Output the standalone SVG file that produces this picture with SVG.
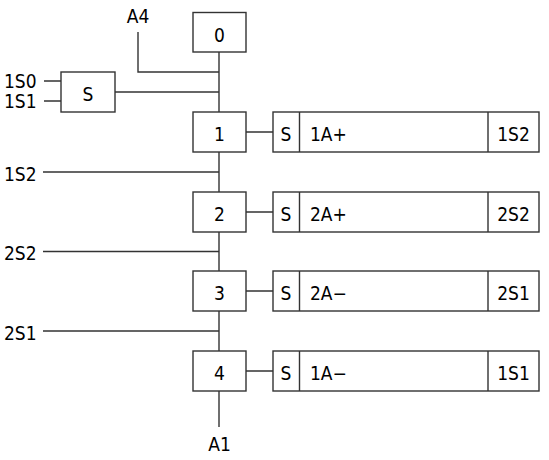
<svg xmlns="http://www.w3.org/2000/svg" width="549" height="460" viewBox="0 0 549 460">
<style>
  .ln{stroke:#333;stroke-width:1.4;fill:none}
  .bx{stroke:#333;stroke-width:1.4;fill:#fff}
  text{font-family:"DejaVu Sans Condensed","DejaVu Sans",sans-serif;font-size:19px;fill:#000}
  .m{text-anchor:middle}
</style>
<rect width="549" height="460" fill="#fff"/>
<g id="connectors">
  <path class="ln" d="M219 52V112M219 152V192M219 232V271M219 311V351M219 391V427"/>
  <path class="ln" d="M138 32V72H219"/>
  <path class="ln" d="M115 92H219"/>
  <path class="ln" d="M44 81H61M44 101H61"/>
  <path class="ln" d="M43 172H219M43 251.5H219M43 331H219"/>
  <path class="ln" d="M246 132H273M246 212H273M246 291H273M246 371H273"/>
</g>
<g id="labels">
  <text x="138" y="22.5" class="m">A4</text>
  <text x="219.5" y="451" class="m">A1</text>
  <text x="4" y="88">1S0</text>
  <text x="4" y="108">1S1</text>
  <text x="4" y="180.5">1S2</text>
  <text x="4" y="260">2S2</text>
  <text x="4" y="339.5">2S1</text>
</g>
<g id="step0">
  <rect class="bx" x="193" y="12.5" width="53" height="39.5"/>
  <text x="219.5" y="41.5" class="m">0</text>
</g>
<g id="setblock">
  <rect class="bx" x="61" y="72" width="54" height="40"/>
  <text x="88" y="101" class="m">S</text>
</g>
<g id="step1">
  <rect class="bx" x="193" y="112" width="53" height="40"/>
  <text x="219.5" y="141" class="m">1</text>
</g>
<g id="action1">
  <rect class="bx" x="273" y="112" width="266" height="40"/>
  <path class="ln" d="M299.5 112V152M488 112V152"/>
  <text x="286" y="141" class="m">S</text>
  <text x="310" y="141">1A+</text>
  <text x="513.5" y="141" class="m">1S2</text>
</g>
<g id="step2">
  <rect class="bx" x="193" y="192" width="53" height="40"/>
  <text x="219.5" y="221" class="m">2</text>
</g>
<g id="action2">
  <rect class="bx" x="273" y="192" width="266" height="40"/>
  <path class="ln" d="M299.5 192V232M488 192V232"/>
  <text x="286" y="221" class="m">S</text>
  <text x="310" y="221">2A+</text>
  <text x="513.5" y="221" class="m">2S2</text>
</g>
<g id="step3">
  <rect class="bx" x="193" y="271" width="53" height="40"/>
  <text x="219.5" y="300" class="m">3</text>
</g>
<g id="action3">
  <rect class="bx" x="273" y="271" width="266" height="40"/>
  <path class="ln" d="M299.5 271V311M488 271V311"/>
  <text x="286" y="300" class="m">S</text>
  <text x="310" y="300">2A−</text>
  <text x="513.5" y="300" class="m">2S1</text>
</g>
<g id="step4">
  <rect class="bx" x="193" y="351" width="53" height="40"/>
  <text x="219.5" y="380" class="m">4</text>
</g>
<g id="action4">
  <rect class="bx" x="273" y="351" width="266" height="40"/>
  <path class="ln" d="M299.5 351V391M488 351V391"/>
  <text x="286" y="380" class="m">S</text>
  <text x="310" y="380">1A−</text>
  <text x="513.5" y="380" class="m">1S1</text>
</g>
</svg>
